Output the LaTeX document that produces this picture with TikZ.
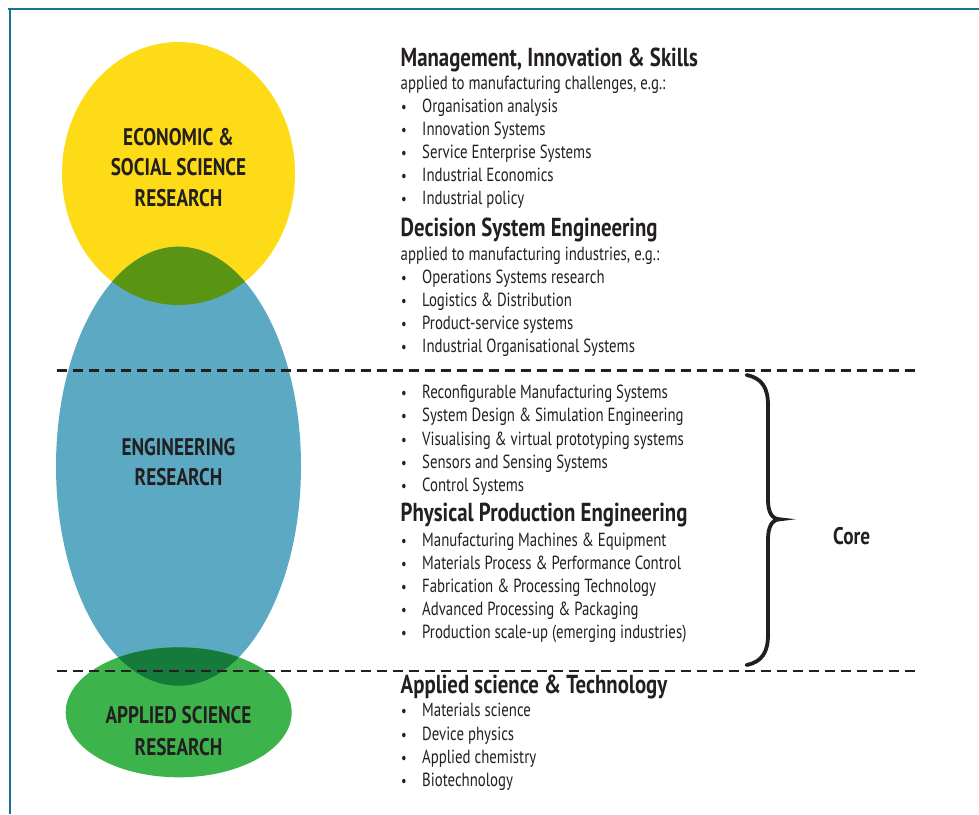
\documentclass[tikz,border=0pt]{standalone}
\usepackage{fontspec}
\setmainfont{PT Sans}[FakeStretch=0.78]
\newfontfamily\hfont{PT Sans}[FakeStretch=0.8]
\usetikzlibrary{shapes.geometric}
\definecolor{bordercol}{HTML}{13758F}
\definecolor{ecoY}{HTML}{FDDC17}
\definecolor{engB}{HTML}{5BA9C2}
\definecolor{sciG}{HTML}{3CB44B}
\definecolor{ovlA}{HTML}{5A9413}
\definecolor{ovlB}{HTML}{167A3A}
\definecolor{txt}{HTML}{231F20}
\tikzset{
  lab/.style={anchor=base, inner sep=0pt, text=txt, font=\hfont\fontsize{24}{24}\selectfont\bfseries},
  head/.style={anchor=base west, inner sep=0pt, text=txt, font=\hfont\fontsize{26}{26}\selectfont\bfseries},
  body/.style={anchor=base west, inner sep=0pt, text=txt, font=\fontsize{19}{19}\selectfont},
  bul/.style={anchor=base west, inner sep=0pt, text=txt, font=\fontsize{16}{16}\selectfont},
  sep/.style={draw=txt, line width=2.3pt, dash pattern=on 9.5pt off 6.5pt},
}
\newcommand{\bitem}[3]{%
  \node[bul] (#1b) at (401,#2) {•};
  \node[body] (#1) at (422,#2) {#3};}
\begin{document}
\begin{tikzpicture}[x=1pt,y=-1pt]
\useasboundingbox (0,0) rectangle (979,814);
% frame
\draw[bordercol, line width=2pt] (8,8.8) -- (979,8.8);
\draw[bordercol, line width=2pt] (9.8,8) -- (9.8,814);
% ellipses
\fill[ecoY] (178.5,173.5) ellipse [x radius=116.5, y radius=131.5];
\fill[engB] (178.5,466.2) ellipse [x radius=122.5, y radius=219.5];
\fill[sciG] (178.7,712.3) ellipse [x radius=113, y radius=65];
\begin{scope}
  \clip (178.5,173.5) ellipse [x radius=116.5, y radius=131.5];
  \fill[ovlA] (178.5,466.2) ellipse [x radius=122.5, y radius=219.5];
\end{scope}
\begin{scope}
  \clip (178.7,712.3) ellipse [x radius=113, y radius=65];
  \fill[ovlB] (178.5,466.2) ellipse [x radius=122.5, y radius=219.5];
\end{scope}
% dashed separators
\coordinate (s1a) at (57,370.5);
\coordinate (s1b) at (918,370.5);
\coordinate (s2a) at (57,670.7);
\coordinate (s2b) at (918,670.7);
\draw[sep] (s1a) -- (s1b);
\draw[sep] (s2a) -- (s2b);
% circle labels
\node[lab] (e1) at (178.5,145) {ECONOMIC \&};
\node[lab] (e2) at (178.5,175.8) {SOCIAL SCIENCE};
\node[lab] (e3) at (178.5,206.5) {RESEARCH};
\node[lab] (g1) at (178.5,455) {ENGINEERING};
\node[lab] (g2) at (178.5,485.7) {RESEARCH};
\node[lab] (a1) at (178.5,723.3) {APPLIED SCIENCE};
\node[lab] (a2) at (178.5,755.7) {RESEARCH};
% section 1
\node[head] (h1) at (400.5,66) {Management, Innovation \& Skills};
\node[body] (h1s) at (400.5,89.5) {applied to manufacturing challenges, e.g.:};
\bitem{m1}{112}{Organisation analysis}
\bitem{m2}{135}{Innovation Systems}
\bitem{m3}{158}{Service Enterprise Systems}
\bitem{m4}{181}{Industrial Economics}
\bitem{m5}{204}{Industrial policy}
% section 2
\node[head] (h2) at (400.5,236) {Decision System Engineering};
\node[body] (h2s) at (400.5,260) {applied to manufacturing industries, e.g.:};
\bitem{d1}{283}{Operations Systems research}
\bitem{d2}{306}{Logistics \& Distribution}
\bitem{d3}{329}{Product-service systems}
\bitem{d4}{352}{Industrial Organisational Systems}
% section 3
\bitem{r1}{398.3}{Reconfigurable Manufacturing Systems}
\bitem{r2}{421.6}{System Design \& Simulation Engineering}
\bitem{r3}{445}{Visualising \& virtual prototyping systems}
\bitem{r4}{468}{Sensors and Sensing Systems}
\bitem{r5}{491}{Control Systems}
\node[head] (h3) at (400.5,521.7) {Physical Production Engineering};
\bitem{p1}{546}{Manufacturing Machines \& Equipment}
\bitem{p2}{569}{Materials Process \& Performance Control}
\bitem{p3}{592}{Fabrication \& Processing Technology}
\bitem{p4}{615}{Advanced Processing \& Packaging}
\bitem{p5}{638}{Production scale-up (emerging industries)}
% section 4
\node[head] (h4) at (400.5,693) {Applied science \& Technology};
\bitem{t1}{716.7}{Materials science}
\bitem{t2}{740}{Device physics}
\bitem{t3}{763}{Applied chemistry}
\bitem{t4}{786}{Biotechnology}
% brace
\coordinate (bt) at (746.5,375);
\coordinate (bm) at (780,519.3);
\coordinate (bb) at (746.5,665);
\draw[txt, line width=3.8pt, line cap=round]
  (bt) .. controls (762,378) and (768,388) .. (768,405)
  -- (768,500) .. controls (768,512) and (772,519.3) .. (bm)
  .. controls (772,519.3) and (768,527) .. (768,539)
  -- (768,635) .. controls (768,652) and (762,662) .. (bb);
\node[anchor=base west, inner sep=0pt, text=txt, font=\hfont\fontsize{24}{24}\selectfont\bfseries] (core) at (833,544) {Core};
\end{tikzpicture}
\end{document}
